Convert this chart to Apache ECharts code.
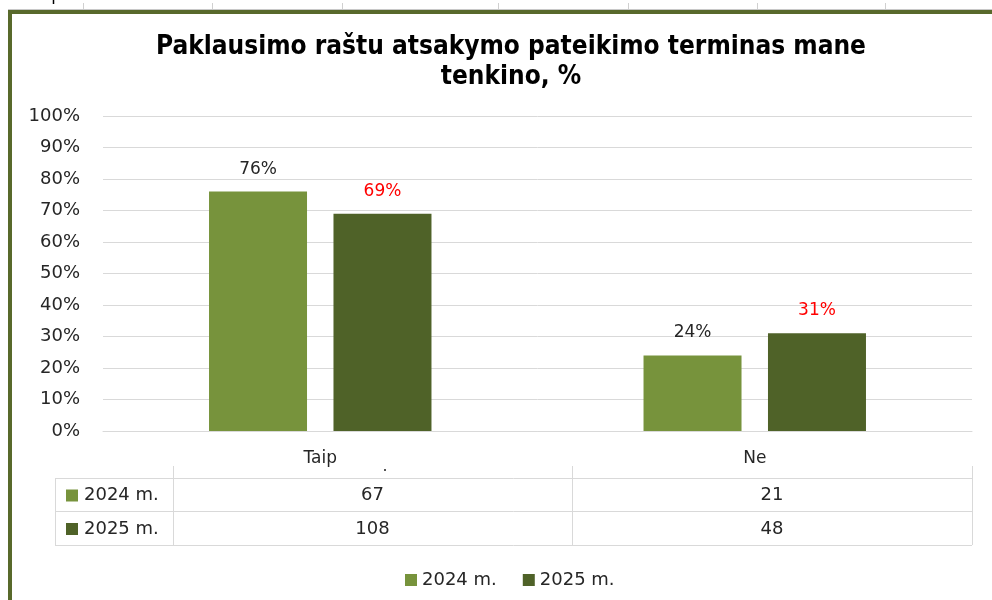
<!DOCTYPE html>
<html lang="lt">
<head>
    <meta charset="UTF-8">
    <title>Paklausimo raštu atsakymo pateikimo terminas</title>
    <script src="https://cdn.jsdelivr.net/npm/echarts@6/dist/echarts.min.js"></script>
    <style>
        html, body { margin: 0; padding: 0; background: #fff; }
        #chart { width: 992px; height: 600px; }
    </style>
</head>
<body>
<div id="chart"></div>
<script>
    var categories = ['Taip', 'Ne'];
    var seriesNames = ['2024 m.', '2025 m.'];
    var percent2024 = [76, 24];
    var percent2025 = [69, 31];
    var counts2024 = [67, 21];
    var counts2025 = [108, 48];
    var yTicks = [0, 10, 20, 30, 40, 50, 60, 70, 80, 90, 100];

    var colors = ['#77933c', '#4f6228'];
    var gridCol = '#d9d9d9';
    var txtCol = '#262626';
    var font = 'DejaVu Sans';

    var myChart = echarts.init(document.getElementById('chart'));

    var graphics = [];

    // sheet cells peeking above the chart frame
    [83, 212, 342, 498, 628, 757, 885].forEach(function (x) {
        graphics.push({ type: 'line', shape: { x1: x + 0.5, y1: 3, x2: x + 0.5, y2: 9 }, style: { stroke: '#d0d0d0', lineWidth: 1 } });
    });
    graphics.push({ type: 'line', shape: { x1: 8, y1: 9.5, x2: 992, y2: 9.5 }, style: { stroke: '#c8c8c8', lineWidth: 1 } });
    graphics.push({ type: 'line', shape: { x1: 53.5, y1: 0, x2: 53.5, y2: 4 }, style: { stroke: '#000', lineWidth: 1.5 } });
    // chart frame
    graphics.push({ type: 'line', shape: { x1: 8, y1: 12, x2: 992, y2: 12 }, style: { stroke: '#58692b', lineWidth: 4 } });
    graphics.push({ type: 'line', shape: { x1: 10, y1: 10, x2: 10, y2: 600 }, style: { stroke: '#58692b', lineWidth: 4 } });

    // data table under the axis (Excel style)
    var tableX = [55, 173, 572, 972];
    var tableY = [478, 511, 545];
    var tableRows = [counts2024, counts2025];
    tableY.forEach(function (y) {
        graphics.push({ type: 'line', shape: { x1: tableX[0], y1: y + 0.5, x2: tableX[3], y2: y + 0.5 }, style: { stroke: gridCol, lineWidth: 1 } });
    });
    tableX.forEach(function (x, i) {
        graphics.push({ type: 'line', shape: { x1: x + 0.5, y1: i === 0 ? tableY[0] : 466, x2: x + 0.5, y2: tableY[2] }, style: { stroke: gridCol, lineWidth: 1 } });
    });
    tableRows.forEach(function (row, r) {
        var cy = (tableY[r] + tableY[r + 1]) / 2 + 1;
        graphics.push({ type: 'rect', shape: { x: 66, y: cy - 6, width: 12, height: 12 }, style: { fill: colors[r] } });
        graphics.push({ type: 'text', x: 84, y: cy, style: { text: seriesNames[r], font: '18px ' + font, fill: txtCol, textVerticalAlign: 'middle' } });
        row.forEach(function (v, c) {
            graphics.push({
                type: 'text', x: (tableX[c + 1] + tableX[c + 2]) / 2, y: cy,
                style: { text: String(v), font: '18px ' + font, fill: txtCol, textAlign: 'center', textVerticalAlign: 'middle' }
            });
        });
    });
    // small stray dot under "Taip"
    graphics.push({ type: 'rect', shape: { x: 384, y: 469, width: 2, height: 2 }, style: { fill: '#555' } });

    var option = {
        animation: false,
        backgroundColor: '#fff',
        title: {
            text: 'Paklausimo raštu atsakymo pateikimo terminas mane\ntenkino, %',
            left: 506,
            textAlign: 'center',
            top: 27,
            textStyle: {
                fontFamily: 'DejaVu Sans Condensed',
                fontWeight: 'bold',
                fontSize: 26,
                lineHeight: 30,
                color: '#000'
            }
        },
        legend: {
            data: seriesNames,
            left: 400,
            top: 566,
            icon: 'rect',
            itemWidth: 12,
            itemHeight: 12,
            itemGap: 26,
            textStyle: { fontFamily: font, fontSize: 18, color: txtCol }
        },
        grid: { left: 103, right: 20, top: 116, bottom: 169, containLabel: false },
        xAxis: {
            type: 'category',
            data: categories,
            axisLine: { lineStyle: { color: gridCol } },
            axisTick: { show: false },
            axisLabel: { fontFamily: font, fontSize: 17, color: txtCol, margin: 19 }
        },
        yAxis: {
            type: 'value',
            min: yTicks[0],
            max: yTicks[yTicks.length - 1],
            interval: 10,
            axisLine: { show: false },
            axisTick: { show: false },
            splitLine: { lineStyle: { color: gridCol } },
            axisLabel: { formatter: '{value}%', fontFamily: font, fontSize: 18, color: txtCol, margin: 23 }
        },
        series: [
            {
                name: seriesNames[0],
                type: 'bar',
                data: percent2024,
                barWidth: 98,
                barGap: '27%',
                itemStyle: { color: colors[0] },
                label: { show: true, position: 'top', distance: 14, formatter: '{c}%', fontFamily: font, fontSize: 17, color: txtCol }
            },
            {
                name: seriesNames[1],
                type: 'bar',
                data: percent2025,
                barWidth: 98,
                itemStyle: { color: colors[1] },
                label: { show: true, position: 'top', distance: 14, formatter: '{c}%', fontFamily: font, fontSize: 17, color: '#ff0000' }
            }
        ],
        graphic: graphics
    };
    myChart.setOption(option);
</script>
</body>
</html>
